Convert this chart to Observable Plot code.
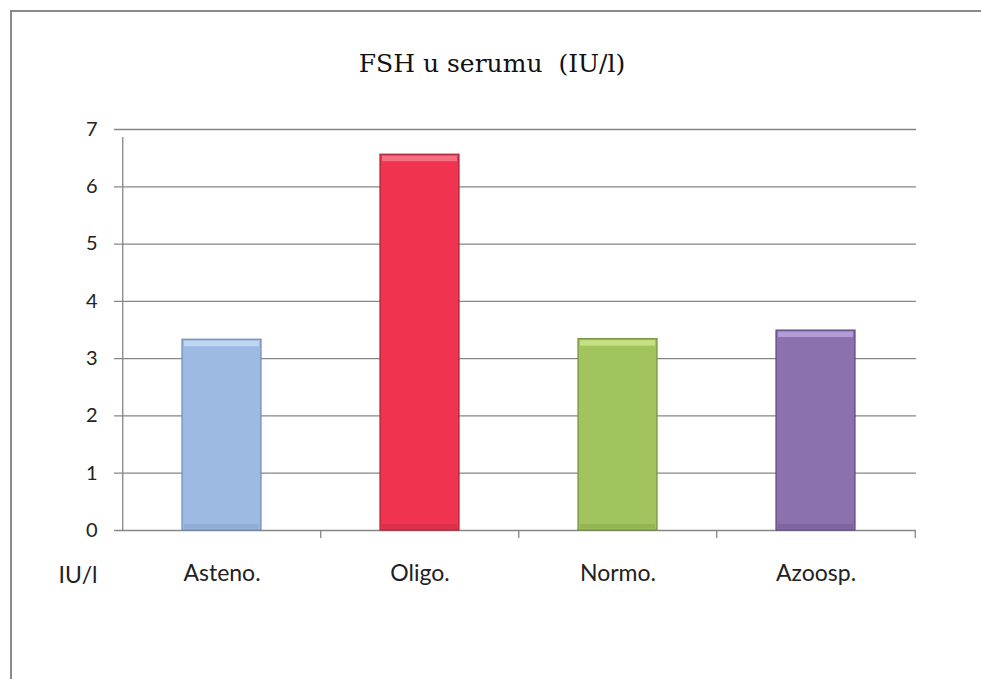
<!DOCTYPE html>
<html>
<head>
<meta charset="utf-8">
<script src="https://cdn.jsdelivr.net/npm/d3@7"></script>
<script src="https://cdn.jsdelivr.net/npm/@observablehq/plot@0.6"></script>
<style>
  html, body { margin: 0; padding: 0; background: #fff; overflow: hidden; }
  body { width: 981px; height: 679px; position: relative; }
  #frame { position: absolute; left: 10px; top: 10px; width: 1000px; height: 700px; border: 2px solid #8a8a8a; box-sizing: border-box; }
  #title { position: absolute; left: 0; top: 49px; width: 984px; text-align: center; font-family: "DejaVu Serif", "Liberation Serif", serif; font-size: 25px; line-height: 30px; color: #111; white-space: pre; }
  #chart { position: absolute; left: 0; top: 0; }
  g[aria-label="mainbars"] { filter: drop-shadow(2px 1px 2px rgba(0,0,0,0.3)); }
</style>
</head>
<body>
<div id="frame"></div>
<div id="title">FSH u serumu  (IU/l)</div>
<div id="chart"></div>
<script>
const categories = ["Asteno.", "Oligo.", "Normo.", "Azoosp."];
const values = [3.33, 6.56, 3.34, 3.49];
const colors = ["#9DBBE2", "#F0344F", "#A2C45E", "#8B71AE"];
const edgeColors = ["#6F8DB5", "#A8243A", "#728F3C", "#5E4A7E"];
const highlightColors = ["#C4DAF5", "#F77A8E", "#CCE68A", "#B9A3DC"];
const yTicks = [0, 1, 2, 3, 4, 5, 6, 7];
const unitLabel = "IU/l";

const W = 981, H = 679;
const mL = 122, mR = 65, mT = 129, mB = 149;
const step = (W - mL - mR) / categories.length;

const data = categories.map((c, i) => ({
  cat: c, value: values[i], fill: colors[i], edge: edgeColors[i], hi: highlightColors[i]
}));

const gridColor = "#868686";

const plot = Plot.plot({
  width: W,
  height: H,
  marginLeft: mL,
  marginRight: mR,
  marginTop: mT,
  marginBottom: mB,
  style: { fontFamily: "Lato, 'Open Sans', sans-serif", background: "transparent", color: "#222" },
  x: { domain: categories, paddingInner: 0.6, paddingOuter: 0.3, label: null },
  y: { domain: [0, 7], ticks: yTicks, label: null },
  marks: [
    Plot.ruleY(yTicks, { y: d => d, stroke: gridColor, strokeWidth: 1.3, insetLeft: -8 }),
    Plot.ruleX([categories[0]], { x: d => d, dx: -step / 2, y1: 0, y2: 7, stroke: gridColor, strokeWidth: 1.3, insetBottom: -8 }),
    Plot.ruleX(categories.slice(1), { x: d => d, dx: -step / 2, y1: 0, y2: 0, stroke: gridColor, strokeWidth: 1.3, insetBottom: -8 }),
    Plot.ruleX([categories[categories.length - 1]], { x: d => d, dx: step / 2, y1: 0, y2: 0, stroke: gridColor, strokeWidth: 1.3, insetBottom: -8 }),
    Plot.barY(data, { x: "cat", y: "value", fill: d => d.fill, stroke: d => d.edge, strokeWidth: 1.2, ariaLabel: "mainbars" }),
    Plot.barY(data, { x: "cat", y1: "value", y2: "value", fill: d => d.hi, insetBottom: -7, insetLeft: 2, insetRight: 2, insetTop: 1.5, fillOpacity: 0.85 }),
    Plot.barY(data, { x: "cat", y1: 0, y2: 0, fill: d => d.edge, insetTop: -6, insetLeft: 2, insetRight: 2, insetBottom: 1.5, fillOpacity: 0.3 }),
    Plot.axisY({ ticks: yTicks, tickFormat: "d", tickSize: 0, tickPadding: 25, fontSize: 20, fill: "#222", label: null }),
    Plot.axisX({ tickSize: 0, tickPadding: 34, fontSize: 23, fill: "#222", label: null }),
    Plot.text([unitLabel], { frameAnchor: "bottom-left", text: d => d, dx: -25, dy: 45, textAnchor: "end", lineAnchor: "middle", fontSize: 23, fill: "#222" })
  ]
});

plot.setAttribute("fill", "none");
document.getElementById("chart").appendChild(plot);
</script>
</body>
</html>
